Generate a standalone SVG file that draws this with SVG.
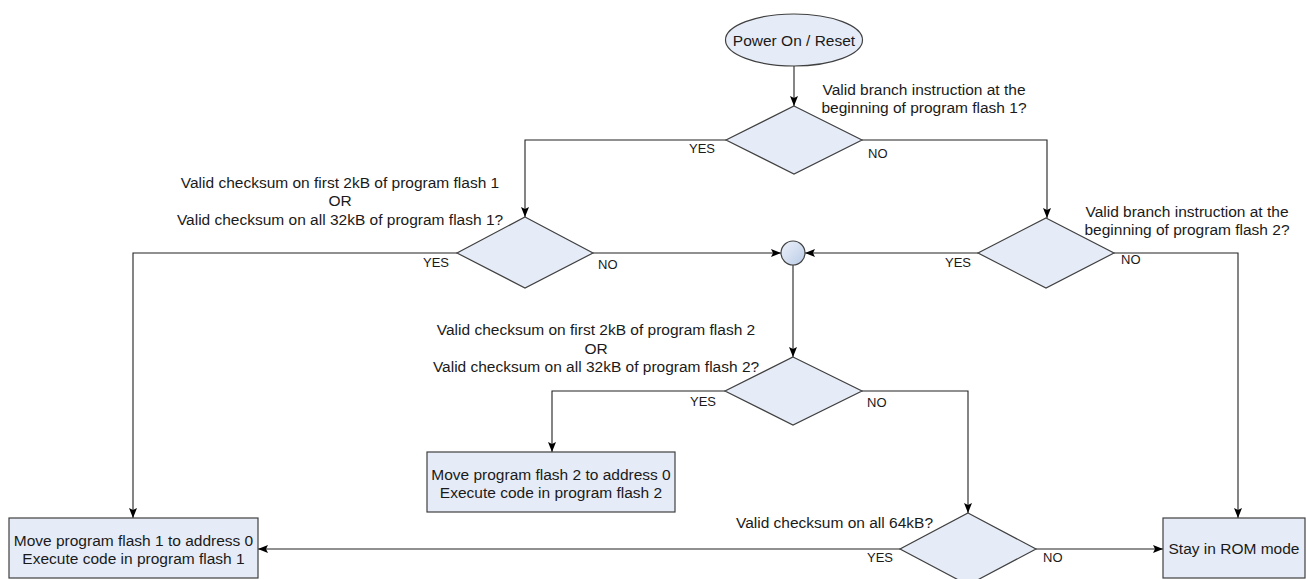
<svg xmlns="http://www.w3.org/2000/svg" width="1306" height="579" viewBox="0 0 1306 579">
<defs>
<marker id="arr" viewBox="0 0 10 8" refX="10" refY="4" markerWidth="10" markerHeight="8" markerUnits="userSpaceOnUse" orient="auto">
<path d="M0,0 L10,4 L0,8 L2,4 z" fill="#000"/>
</marker>
<linearGradient id="cg" x1="0" y1="0" x2="1" y2="1">
<stop offset="0" stop-color="#eef2fa"/>
<stop offset="1" stop-color="#b9cbe6"/>
</linearGradient>
<style>
.shape{fill:#e6ecf7;stroke:#404040;stroke-width:1.2}
.conn{fill:none;stroke:#222;stroke-width:1.1}
.t{font-family:"Liberation Sans",Arial,sans-serif;font-size:15.5px;fill:#1a1a1a}
.c{text-anchor:middle}
.lbl{font-family:"Liberation Sans",Arial,sans-serif;font-size:13px;fill:#1a1a1a}
</style>
</defs>
<rect width="1306" height="579" fill="#fff"/>
<g id="connectors">
<path class="conn" d="M794,66 V106" marker-end="url(#arr)"/>
<path class="conn" d="M726,140 H525 V217" marker-end="url(#arr)"/>
<path class="conn" d="M862,140 H1047 V218" marker-end="url(#arr)"/>
<path class="conn" d="M457,253 H133 V518" marker-end="url(#arr)"/>
<path class="conn" d="M593,253 H781" marker-end="url(#arr)"/>
<path class="conn" d="M978,253 H805" marker-end="url(#arr)"/>
<path class="conn" d="M1114,253 H1238 V518" marker-end="url(#arr)"/>
<path class="conn" d="M793,265 V357" marker-end="url(#arr)"/>
<path class="conn" d="M725,391 H552 V452" marker-end="url(#arr)"/>
<path class="conn" d="M862,391 H968 V513" marker-end="url(#arr)"/>
<path class="conn" d="M900,549 H258" marker-end="url(#arr)"/>
<path class="conn" d="M1036,549 H1163" marker-end="url(#arr)"/>
</g>
<g id="start">
<ellipse class="shape" cx="794" cy="40" rx="68.5" ry="26"/>
<text class="t c" x="794" y="45.5">Power On / Reset</text>
</g>
<g id="d1">
<polygon class="shape" points="794,106 862,140 794,174 726,140"/>
<text class="t c" x="924" y="95">Valid branch instruction at the</text>
<text class="t c" x="924" y="113">beginning of program flash 1?</text>
<text class="lbl" x="689" y="153">YES</text>
<text class="lbl" x="868" y="158">NO</text>
</g>
<g id="d2">
<polygon class="shape" points="525,217 593,253 525,288 457,253"/>
<text class="t c" x="340" y="187.5">Valid checksum on first 2kB of program flash 1</text>
<text class="t c" x="340" y="206">OR</text>
<text class="t c" x="340" y="225">Valid checksum on all 32kB of program flash 1?</text>
<text class="lbl" x="423" y="267">YES</text>
<text class="lbl" x="598" y="269">NO</text>
</g>
<g id="d3">
<polygon class="shape" points="1046,218 1114,253 1046,288 978,253"/>
<text class="t c" x="1187" y="216.5">Valid branch instruction at the</text>
<text class="t c" x="1187" y="235">beginning of program flash 2?</text>
<text class="lbl" x="945" y="267">YES</text>
<text class="lbl" x="1121" y="264">NO</text>
</g>
<g id="join">
<circle cx="793" cy="253" r="12" fill="url(#cg)" stroke="#404040" stroke-width="1.2"/>
</g>
<g id="d4">
<polygon class="shape" points="793,357 862,391 793,425 725,391"/>
<text class="t c" x="596" y="335">Valid checksum on first 2kB of program flash 2</text>
<text class="t c" x="596" y="353.5">OR</text>
<text class="t c" x="596" y="372">Valid checksum on all 32kB of program flash 2?</text>
<text class="lbl" x="690" y="406">YES</text>
<text class="lbl" x="867" y="407">NO</text>
</g>
<g id="box2">
<rect class="shape" x="427" y="452" width="248" height="60"/>
<text class="t c" x="551" y="480">Move program flash 2 to address 0</text>
<text class="t c" x="551" y="498">Execute code in program flash 2</text>
</g>
<g id="d5">
<polygon class="shape" points="968,513 1036,549 968,585 900,549"/>
<text class="t" x="736" y="528">Valid checksum on all 64kB?</text>
<text class="lbl" x="867" y="562">YES</text>
<text class="lbl" x="1043" y="562">NO</text>
</g>
<g id="box1">
<rect class="shape" x="9" y="518" width="249" height="60"/>
<text class="t c" x="133.5" y="545.5">Move program flash 1 to address 0</text>
<text class="t c" x="133.5" y="563.5">Execute code in program flash 1</text>
</g>
<g id="rom">
<rect class="shape" x="1163" y="518" width="142" height="60"/>
<text class="t c" x="1234" y="553.5">Stay in ROM mode</text>
</g>
</svg>
